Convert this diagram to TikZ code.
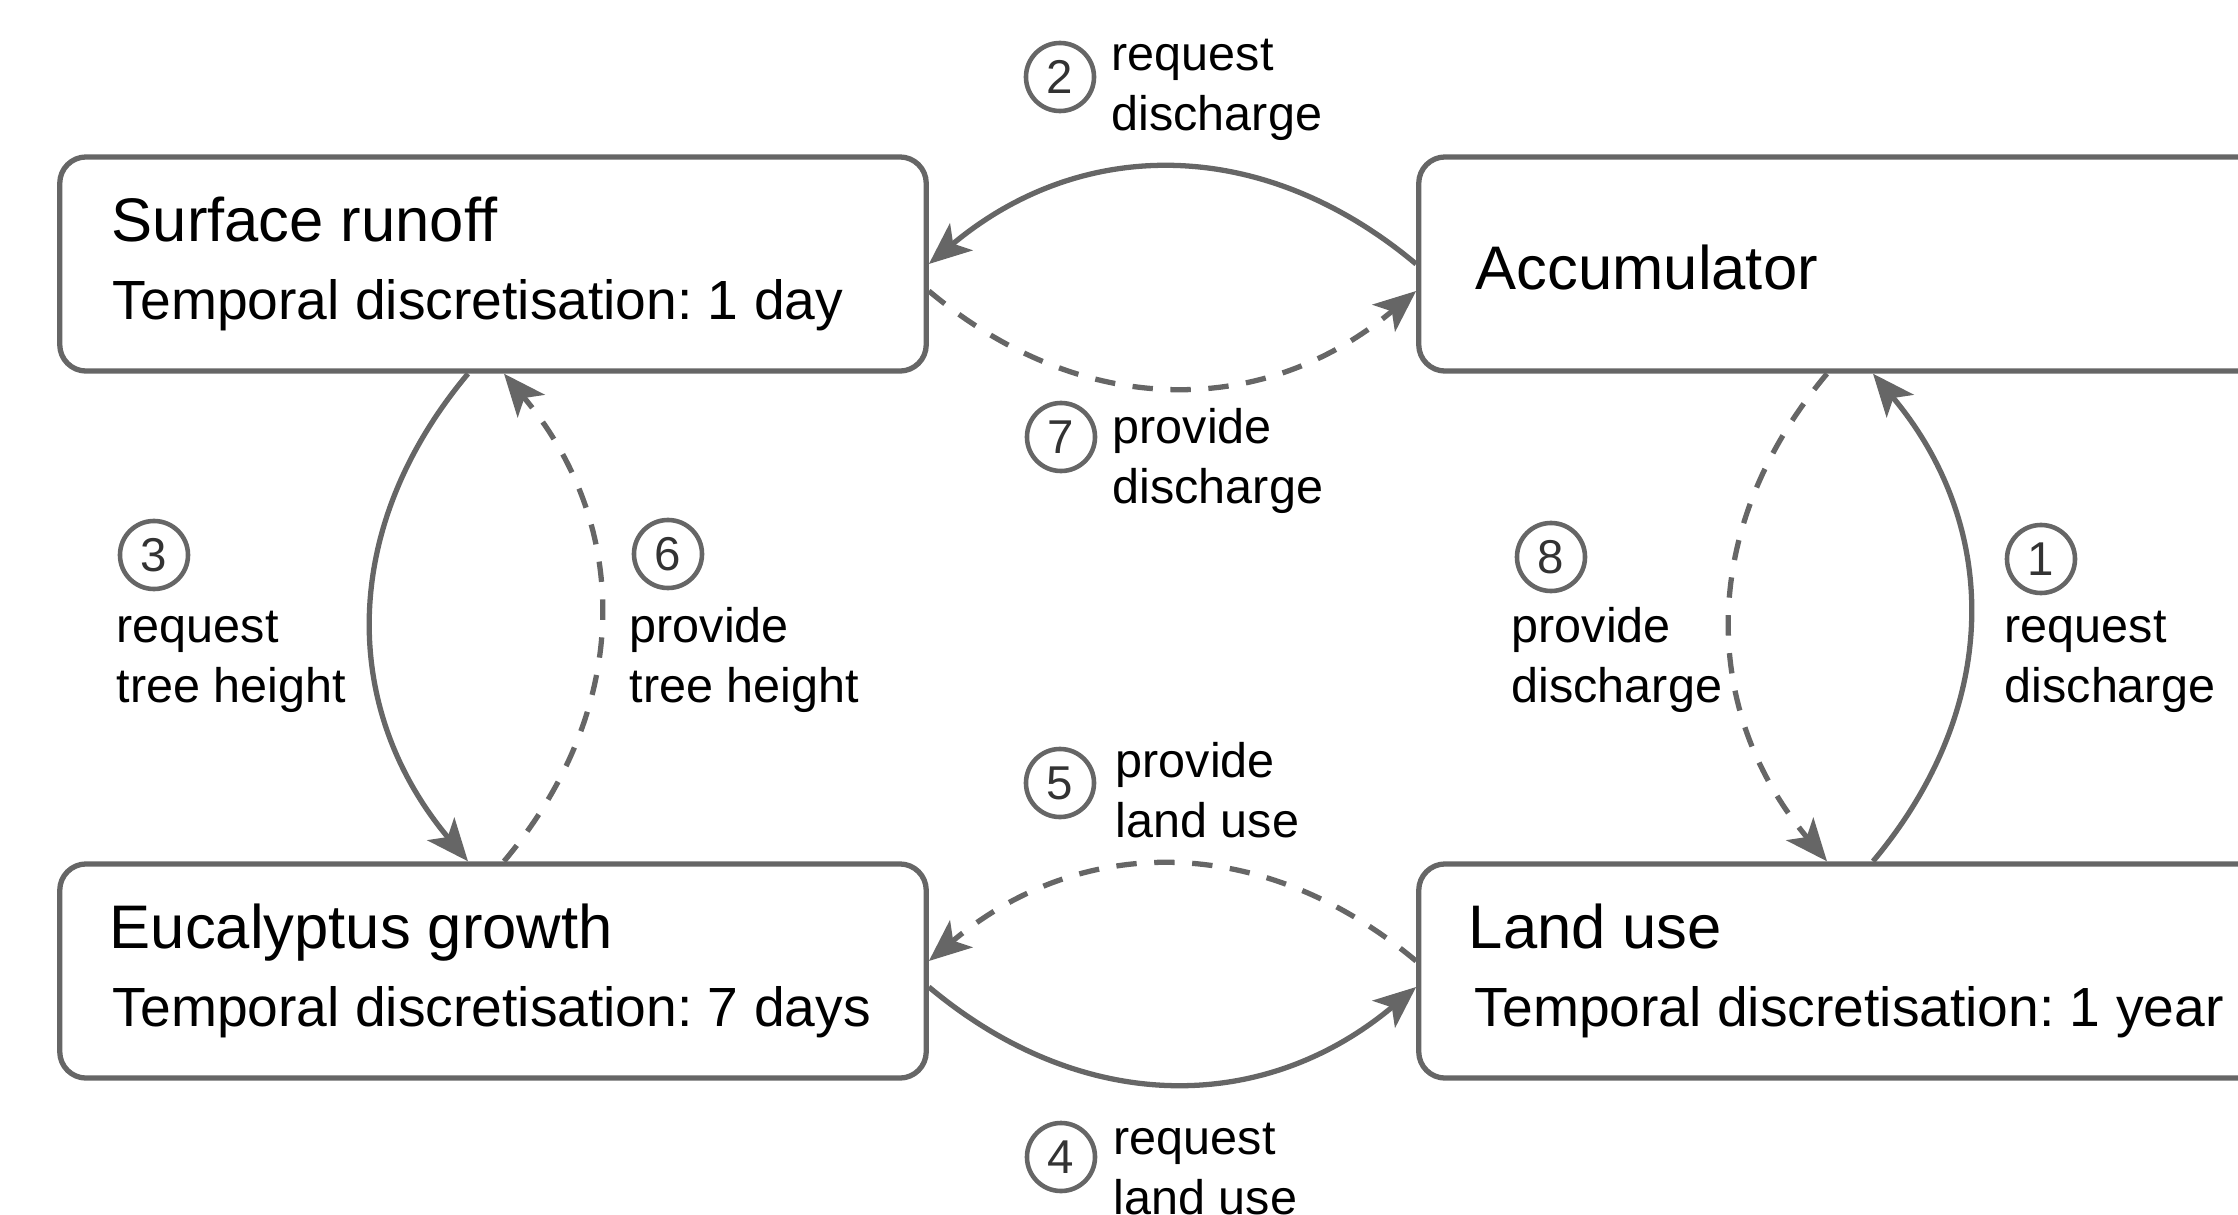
\documentclass[tikz,border=0pt]{standalone}
\usepackage{xcolor}
\usepackage{fontspec}
\setmainfont{Liberation Sans}
\usepackage{tikz}
\usetikzlibrary{positioning,arrows.meta}
\definecolor{gris}{HTML}{666666}
\definecolor{grisoscuro}{HTML}{333333}
\frenchspacing

\begin{document}
\begin{tikzpicture}[x=0.01cm, y=-0.01cm,
    modulo/.style={draw=gris, line width=1.5pt, rounded corners=7.5pt, fill=white,
                   minimum width=8.66cm, minimum height=2.14cm},
    titulo/.style={anchor=base west, inner sep=0pt, font=\fontsize{17.5}{20}\selectfont},
    detalle/.style={anchor=base west, inner sep=0pt, font=\fontsize{15.7}{18}\selectfont},
    paso/.style={circle, draw=gris, line width=1.3pt, minimum size=0.68cm, inner sep=0pt,
                 text=grisoscuro, font=\fontsize{13.5}{13.5}\selectfont},
    etiqueta/.style={anchor=base west, inner sep=0pt, align=left,
                     font=\fontsize{13.8}{16.8}\selectfont},
    pide/.style={-{Stealth[length=12pt, width=10pt, inset=3pt]}, line width=1.5pt,
                 color=gris, bend right=40, looseness=1.05},
    entrega/.style={pide, dash pattern=on 5.8pt off 5pt}]
  \useasboundingbox (0,0) rectangle (2238,1215);
  \clip (0,0) rectangle (2238,1215);
  \node[modulo] (escorrentia) at (493,264) {};
  \node[modulo] (acumulador) at (1852,264) {};
  \node[modulo] (eucalipto) at (493,971) {};
  \node[modulo] (usosuelo) at (1852,971) {};
  \node[titulo] (escorrentiaT) at ([shift={(54,87)}]escorrentia.north west) {Surface runoff};
  \node[detalle] (escorrentiaD) at ([shift={(55,165)}]escorrentia.north west) {Temporal discretisation: 1 day};
  \node[titulo] (acumuladorT) at ([shift={(59,135)}]acumulador.north west) {Accumulator};
  \node[titulo] (eucaliptoT) at ([shift={(52,87)}]eucalipto.north west) {Eucalyptus growth};
  \node[detalle] (eucaliptoD) at ([shift={(55,165)}]eucalipto.north west) {Temporal discretisation: 7 days};
  \node[titulo] (usosueloT) at ([shift={(52,87)}]usosuelo.north west) {Land use};
  \node[detalle] (usosueloD) at ([shift={(58,165)}]usosuelo.north west) {Temporal discretisation: 1 year};
  \node[paso] (p1) at (2041,559) {1};
  \node[etiqueta] (e1) at (2004,702) {request\\discharge};
  \node[paso] (p2) at (1060,77) {2};
  \node[etiqueta] (e2) at (1111,130) {request\\discharge};
  \node[paso] (p3) at (154,555) {3};
  \node[etiqueta] (e3) at (116,702) {request\\tree height};
  \node[paso] (p4) at (1061,1157) {4};
  \node[etiqueta] (e4) at (1113,1214) {request\\land use};
  \node[paso] (p5) at (1060,783) {5};
  \node[etiqueta] (e5) at (1115,837) {provide\\land use};
  \node[paso] (p6) at (668,554) {6};
  \node[etiqueta] (e6) at (629,702) {provide\\tree height};
  \node[paso] (p7) at (1061,437) {7};
  \node[etiqueta] (e7) at (1112,503) {provide\\discharge};
  \node[paso] (p8) at (1551,557) {8};
  \node[etiqueta] (e8) at (1511,702) {provide\\discharge};
  \draw[pide] ([shift={(21,0)}]usosuelo.north) to ([shift={(21,0)}]acumulador.south);
  \draw[pide] (acumulador.west) to (escorrentia.east);
  \draw[pide] ([shift={(-25,0)}]escorrentia.south) to ([shift={(-25,0)}]eucalipto.north);
  \draw[pide] ([shift={(0,16)}]eucalipto.east) to ([shift={(0,16)}]usosuelo.west);
  \draw[entrega] ([shift={(0,-10)}]usosuelo.west) to ([shift={(0,-10)}]eucalipto.east);
  \draw[entrega] ([shift={(11,0)}]eucalipto.north) to ([shift={(11,0)}]escorrentia.south);
  \draw[entrega] ([shift={(0,27)}]escorrentia.east) to ([shift={(0,27)}]acumulador.west);
  \draw[entrega] ([shift={(-25,0)}]acumulador.south) to ([shift={(-25,0)}]usosuelo.north);
\end{tikzpicture}
\end{document}
